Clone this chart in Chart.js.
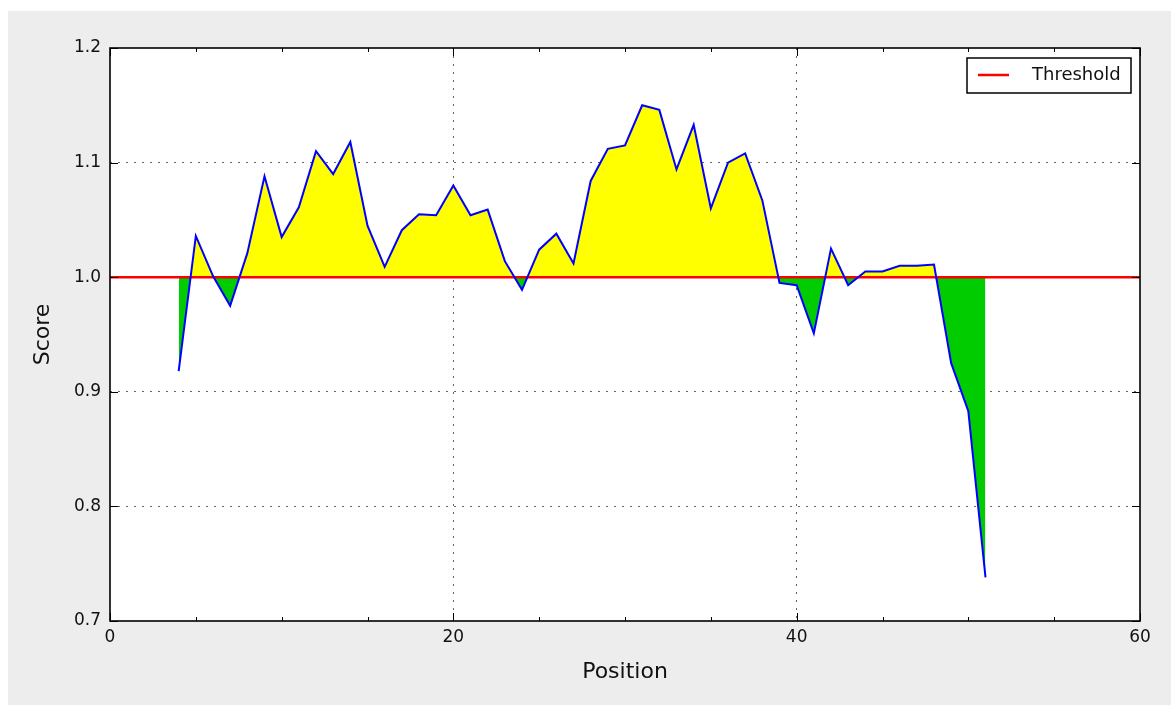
<!DOCTYPE html>
<html>
<head>
<meta charset="utf-8">
<script src="https://cdn.jsdelivr.net/npm/chart.js@4.4.1/dist/chart.umd.min.js"></script>
<style>
  html, body { margin: 0; padding: 0; background: #ffffff; }
  #wrap { position: absolute; left: 8px; top: 11px; width: 1163px; height: 694px; background: #ededed; }
  canvas { display: block; }
</style>
</head>
<body>
<div id="wrap"><canvas id="c" width="1163" height="694"></canvas></div>
<script>
// ---- Data ----
const positions = [4,5,6,7,8,9,10,11,12,13,14,15,16,17,18,19,20,21,22,23,24,25,26,27,
                   28,29,30,31,32,33,34,35,36,37,38,39,40,41,42,43,44,45,46,47,48,49,50,51];
const scores = [0.918,1.036,1.001,0.975,1.021,1.088,1.035,1.061,1.110,1.090,1.118,1.045,
                1.009,1.041,1.055,1.054,1.080,1.054,1.059,1.014,0.989,1.024,1.038,1.012,
                1.084,1.112,1.115,1.150,1.146,1.094,1.133,1.060,1.100,1.108,1.067,0.995,
                0.993,0.951,1.025,0.993,1.005,1.005,1.010,1.010,1.011,0.925,0.883,0.738];
const thresholdValue = 1.0;
const thresholdX = [0, 60];
const xLabelTicks = [0, 20, 40, 60];
const yTicks = [0.7, 0.8, 0.9, 1.0, 1.1, 1.2];
const legendLabel = 'Threshold';
const xTitle = 'Position';
const yTitle = 'Score';

const FONT = "'DejaVu Sans', sans-serif";

const framePlugin = {
  id: 'frame',
  beforeDraw(chart) {
    const ctx = chart.ctx, a = chart.chartArea;
    ctx.save();
    ctx.fillStyle = '#ffffff';
    ctx.fillRect(a.left, a.top, a.right - a.left, a.bottom - a.top);
    ctx.restore();
  },
  afterDraw(chart) {
    const ctx = chart.ctx, a = chart.chartArea;
    const xs = chart.scales.x, ys = chart.scales.y;
    ctx.save();
    ctx.strokeStyle = '#000';
    ctx.lineWidth = 1;
    // inward ticks
    ctx.beginPath();
    for (let v = 0; v <= 60; v += 5) {
      const px = Math.round(xs.getPixelForValue(v)) + 0.5;
      const len = (v % 20 === 0) ? 8 : 4;
      ctx.moveTo(px, a.bottom); ctx.lineTo(px, a.bottom - len);
      ctx.moveTo(px, a.top); ctx.lineTo(px, a.top + len);
    }
    yTicks.forEach(v => {
      const py = Math.round(ys.getPixelForValue(v)) + 0.5;
      ctx.moveTo(a.left, py); ctx.lineTo(a.left + 8, py);
      ctx.moveTo(a.right, py); ctx.lineTo(a.right - 8, py);
    });
    ctx.stroke();
    // frame
    ctx.lineWidth = 1.6;
    ctx.strokeRect(a.left, a.top, a.right - a.left, a.bottom - a.top);
    // legend box
    const bw = 164, bh = 35;
    const bx = a.right - 9 - bw, by = a.top + 10;
    ctx.fillStyle = '#fff';
    ctx.fillRect(bx, by, bw, bh);
    ctx.lineWidth = 1.5;
    ctx.strokeRect(bx, by, bw, bh);
    ctx.strokeStyle = '#ff0000';
    ctx.lineWidth = 2.5;
    ctx.beginPath();
    ctx.moveTo(bx + 11, by + 17); ctx.lineTo(bx + 42, by + 17);
    ctx.stroke();
    ctx.fillStyle = '#111';
    ctx.font = '18px ' + FONT;
    ctx.textBaseline = 'middle';
    ctx.textAlign = 'left';
    ctx.fillText(legendLabel, bx + 65, by + 17);
    ctx.restore();
  }
};

new Chart(document.getElementById('c'), {
  type: 'line',
  data: {
    datasets: [
      {
        label: 'Score',
        data: positions.map((p, i) => ({x: p, y: scores[i]})),
        borderColor: '#0000ff',
        borderWidth: 2,
        pointRadius: 0,
        tension: 0,
        fill: { target: { value: thresholdValue }, above: '#ffff00', below: '#00cc00' },
        order: 0
      },
      {
        label: legendLabel,
        data: thresholdX.map(x => ({x: x, y: thresholdValue})),
        borderColor: '#ff0000',
        borderWidth: 2.5,
        pointRadius: 0,
        fill: false,
        order: 1
      }
    ]
  },
  options: {
    responsive: false,
    animation: false,
    layout: { padding: { left: 0, right: 31, top: 37, bottom: 0 } },
    plugins: {
      legend: { display: false },
      tooltip: { enabled: false },
      filler: { drawTime: 'beforeDatasetsDraw' }
    },
    scales: {
      x: {
        type: 'linear',
        min: 0, max: 60,
        afterFit(s) { s.height = 84; },
        border: { display: false, dash: [2, 6] },
        grid: {
          drawTicks: false,
          color: c => (c.tick && xLabelTicks.includes(c.tick.value) && c.tick.value !== 0 && c.tick.value !== 60) ? '#666' : 'rgba(0,0,0,0)',
          lineWidth: 1
        },
        ticks: {
          stepSize: 5,
          autoSkip: false,
          maxRotation: 0,
          padding: 6,
          color: '#111',
          font: { family: FONT, size: 17 },
          callback: v => xLabelTicks.includes(v) ? String(v) : ''
        },
        title: {
          display: true, text: xTitle, color: '#111',
          font: { family: FONT, size: 22 },
          padding: { top: 0, bottom: 20 }
        }
      },
      y: {
        type: 'linear',
        min: 0.7, max: 1.2,
        afterFit(s) { s.width = 102; },
        border: { display: false, dash: [2, 6] },
        grid: {
          drawTicks: false,
          color: c => (c.tick && Math.abs(c.tick.value - 0.7) > 1e-6 && Math.abs(c.tick.value - 1.2) > 1e-6) ? '#666' : 'rgba(0,0,0,0)',
          lineWidth: 1
        },
        ticks: {
          stepSize: 0.1,
          padding: 9,
          color: '#111',
          font: { family: FONT, size: 17 },
          callback: v => Number(v).toFixed(1)
        },
        title: {
          display: true, text: yTitle, color: '#111',
          font: { family: FONT, size: 22 },
          padding: { top: 22, bottom: 0 }
        }
      }
    }
  },
  plugins: [framePlugin]
});
</script>
</body>
</html>
